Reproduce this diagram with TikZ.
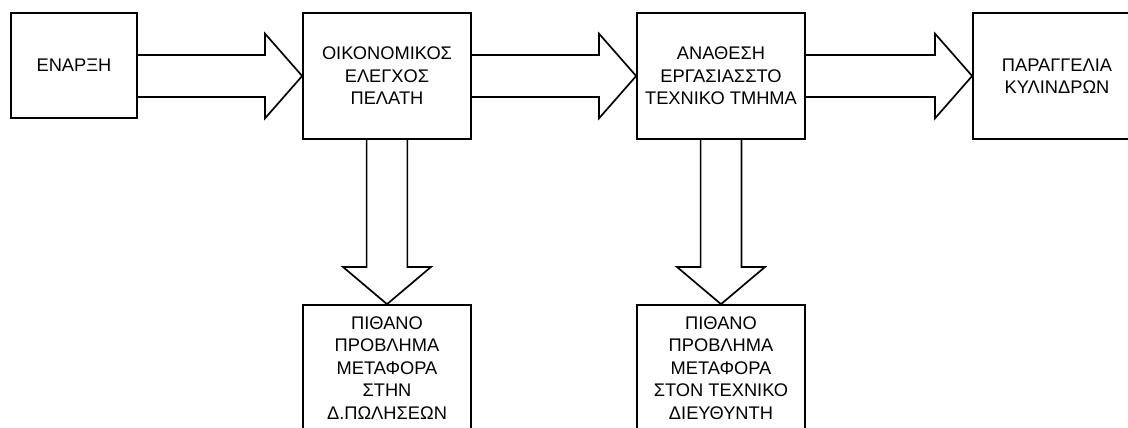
\documentclass[tikz,border=0pt]{standalone}
\usepackage{fontspec}
\setmainfont{Liberation Sans}
\usetikzlibrary{calc}

\tikzset{
  stage/.style={draw, line width=1.2pt, minimum width=4.2cm, minimum height=3.15cm,
    align=center, font=\fontsize{13pt}{16pt}\selectfont},
  blockarrow/.style={draw, line width=1.2pt}
}

\begin{document}
\begin{tikzpicture}
  \clip (0,0) rectangle (28.2,-10.675);
  \useasboundingbox (0,0) rectangle (28.2,-10.675);

  \node[stage, minimum width=3.15cm, minimum height=2.625cm] (enarxi) at (1.85,-1.64) {ΕΝΑΡΞΗ};
  \node[stage] (elegxos) at (9.675,-1.9) {ΟΙΚΟΝΟΜΙΚΟΣ\\ΕΛΕΓΧΟΣ\\ΠΕΛΑΤΗ};
  \node[stage] (anathesi) at (18.025,-1.9) {ΑΝΑΘΕΣΗ\\ΕΡΓΑΣΙΑΣΣΤΟ\\ΤΕΧΝΙΚΟ ΤΜΗΜΑ};
  \node[stage] (paraggelia) at (26.425,-1.9) {ΠΑΡΑΓΓΕΛΙΑ\\ΚΥΛΙΝΔΡΩΝ};
  \node[stage] (provlima1) at (9.675,-9.2) {ΠΙΘΑΝΟ\\ΠΡΟΒΛΗΜΑ\\ΜΕΤΑΦΟΡΑ\\ΣΤΗΝ\\Δ.ΠΩΛΗΣΕΩΝ};
  \node[stage] (provlima2) at (18.025,-9.2) {ΠΙΘΑΝΟ\\ΠΡΟΒΛΗΜΑ\\ΜΕΤΑΦΟΡΑ\\ΣΤΟΝ ΤΕΧΝΙΚΟ\\ΔΙΕΥΘΥΝΤΗ};

  % horizontal block arrows
  \foreach \a/\b in {enarxi/elegxos, elegxos/anathesi, anathesi/paraggelia}
    \draw[blockarrow] ($(\a.east |- \b.west)+(0,0.525)$) -- ($(\b.west)+(-0.93,0.525)$)
      -- ++(0,0.535) -- (\b.west) -- ($(\b.west)+(-0.93,-1.06)$) -- ++(0,0.535)
      -- ($(\a.east |- \b.west)+(0,-0.525)$);

  % vertical block arrows
  \foreach \a/\b in {elegxos/provlima1, anathesi/provlima2}
    \draw[blockarrow] ($(\a.south)+(-0.51,0)$) -- ($(\b.north)+(-0.51,0.93)$)
      -- ++(-0.59,0) -- (\b.north) -- ($(\b.north)+(1.1,0.93)$) -- ++(-0.59,0)
      -- ($(\a.south)+(0.51,0)$);
\end{tikzpicture}
\end{document}
